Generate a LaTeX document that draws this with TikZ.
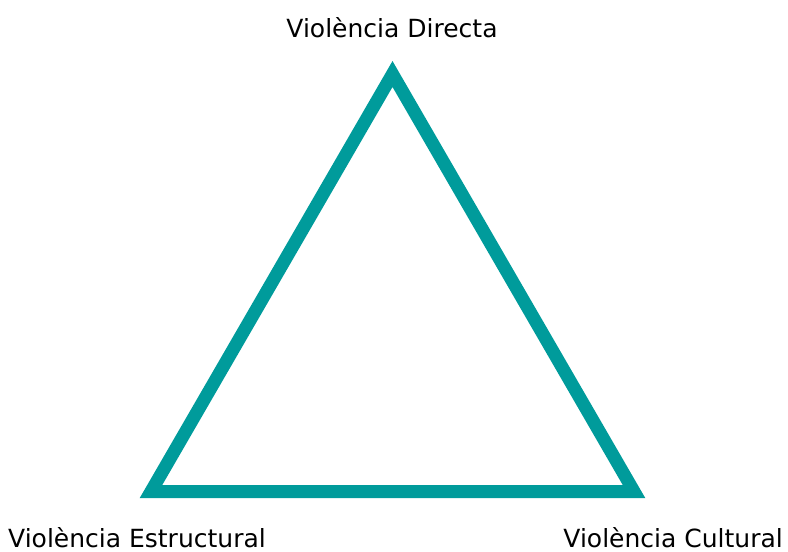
\documentclass[tikz,border=0pt]{standalone}
\usepackage{fontspec}
\setmainfont{DejaVu Sans}
\definecolor{teal1}{RGB}{0,155,155}
\begin{document}
\begin{tikzpicture}[x=1pt,y=-1pt,
  lbl/.style={inner sep=0pt,font=\fontsize{25}{28}\selectfont,text=black},
  tri/.style={draw=teal1,line width=13pt,line join=miter}]
\useasboundingbox (0,0) rectangle (788,552);
\coordinate (A) at (392.5,74);
\coordinate (B) at (151,491.5);
\coordinate (C) at (634,491.5);
\draw[tri] (A) -- (B) -- (C) -- cycle;
\node[lbl,anchor=base] (top) at (392,37) {Violència Directa};
\node[lbl,anchor=base west] (bl) at (8,547) {Violència Estructural};
\node[lbl,anchor=base east] (br) at (783,547) {Violència Cultural};
\end{tikzpicture}
\end{document}
